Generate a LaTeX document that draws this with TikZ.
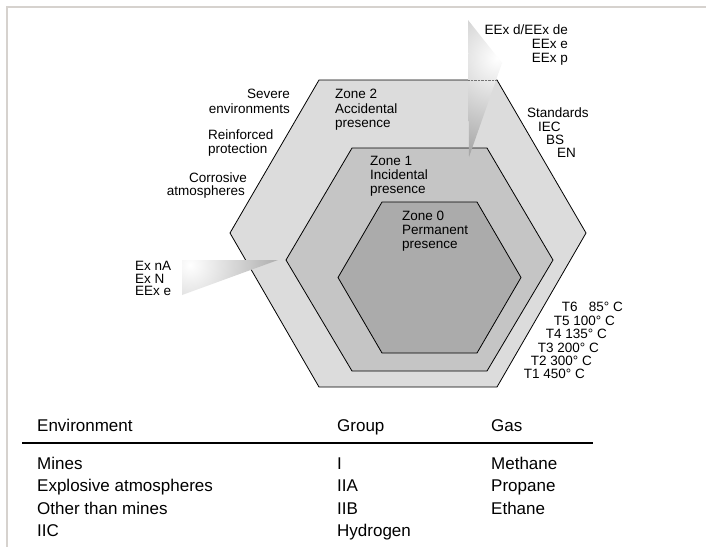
\documentclass[tikz,border=0pt]{standalone}
\usepackage{fontspec}
\setmainfont{Liberation Sans}
\definecolor{hexA}{HTML}{DCDCDC}
\definecolor{hexB}{HTML}{C5C5C5}
\definecolor{hexC}{HTML}{ABABAB}
\definecolor{framecol}{HTML}{D6D2CE}
\begin{document}
\begin{tikzpicture}[x=1pt,y=-1pt,
  lbl/.style={font=\fontsize{13.5}{14.5}\selectfont, inner sep=0pt},
  lw/.style={lbl, anchor=base west},
  le/.style={lbl, anchor=base east},
  tbl/.style={font=\fontsize{17}{20}\selectfont, inner sep=0pt, anchor=base west},
  hexline/.style={draw=black, line width=0.8pt, line join=miter},
  framestyle/.style={draw=framecol, line width=2pt}]
\useasboundingbox (0,0) rectangle (706,547);
\fill[white] (0,0) rectangle (706,547);
\draw[framestyle] (706,7) -- (7,7) -- (7,547);

% hexagons
\filldraw[hexline, fill=hexA] (319,80) -- (497,80) -- (586,233) -- (497,387) -- (319,387) -- (230,233) -- cycle;
\filldraw[hexline, fill=hexB] (352,148) -- (487,148) -- (553,260) -- (487,371) -- (352,371) -- (286,260) -- cycle;
\filldraw[hexline, fill=hexC] (382,202) -- (477,202) -- (521,277.5) -- (477,353) -- (382,353) -- (338,277.5) -- cycle;

% top wedge
\begin{scope}
  \clip (468,20) -- (502,63) -- (469,157) -- cycle;
  \shade[inner color=white, outer color=black!72] (497,58) circle (206pt);
\end{scope}
\draw[densely dotted, line width=0.4pt, black!55] (468,80) -- (497,80);

% left wedge
\begin{scope}
  \clip (182,260) -- (278,260) -- (182,295) -- cycle;
  \shade[inner color=white, outer color=black!65] (190,265) circle (180pt);
\end{scope}

% top right labels
\node[le] (eexd) at (568,34) {EEx d/EEx de};
\node[le] (eexe) at (568,48) {EEx e};
\node[le] (eexp) at (568,62) {EEx p};

\node[lw] (std) at (527,117) {Standards};
\node[lw] (iec) at (538,131) {IEC};
\node[lw] (bs) at (546,144) {BS};
\node[lw] (en) at (557,157) {EN};

% left labels
\node[le] (sev1) at (290,98) {Severe};
\node[le] (sev2) at (290,113) {environments};
\node[lw] (rei1) at (208,139) {Reinforced};
\node[lw] (rei2) at (208,153) {protection};
\node[le] (cor1) at (247,182) {Corrosive};
\node[le] (cor2) at (245,195) {atmospheres};

\node[lw] (exna) at (135,270.5) {Ex nA};
\node[lw] (exn) at (135,283) {Ex N};
\node[lw] (eexe2) at (135,295) {EEx e};

% zone labels
\node[lw] (z2a) at (335,98) {Zone 2};
\node[lw] (z2b) at (335,113) {Accidental};
\node[lw] (z2c) at (335,127) {presence};
\node[lw] (z1a) at (370,165) {Zone 1};
\node[lw] (z1b) at (370,179) {Incidental};
\node[lw] (z1c) at (370,193) {presence};
\node[lw] (z0a) at (402,220) {Zone 0};
\node[lw] (z0b) at (402,234) {Permanent};
\node[lw] (z0c) at (402,248) {presence};

% temperature classes
\node[le] (t6) at (623,311) {T6\ \phantom{1}85° C};
\node[le] (t5) at (615,325) {T5 100° C};
\node[le] (t4) at (607,338) {T4 135° C};
\node[le] (t3) at (599,352) {T3 200° C};
\node[le] (t2) at (592,365) {T2 300° C};
\node[le] (t1) at (585,378) {T1 450° C};

% table
\node[tbl] (henv) at (37,431) {Environment};
\node[tbl] (hgrp) at (337,431) {Group};
\node[tbl] (hgas) at (491,431) {Gas};
\coordinate (ruleL) at (22,443);
\coordinate (ruleR) at (593,443);
\draw[line width=2pt] (ruleL) -- (ruleR);

\node[tbl] (e1) at (37,469) {Mines};
\node[tbl] (e2) at (37,491.5) {Explosive atmospheres};
\node[tbl] (e3) at (37,514) {Other than mines};
\node[tbl] (e4) at (37,536) {IIC};
\node[tbl] (g1) at (337,469) {I};
\node[tbl] (g2) at (337,491.5) {IIA};
\node[tbl] (g3) at (337,514) {IIB};
\node[tbl] (g4) at (337,536) {Hydrogen};
\node[tbl] (s1) at (491,469) {Methane};
\node[tbl] (s2) at (491,491.5) {Propane};
\node[tbl] (s3) at (491,514) {Ethane};
\end{tikzpicture}
\end{document}
